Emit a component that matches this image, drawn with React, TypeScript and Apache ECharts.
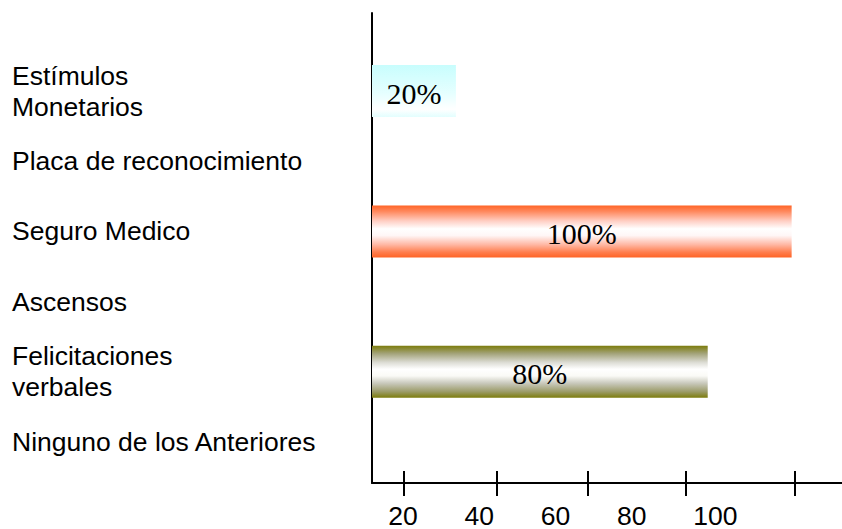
import React, { useEffect, useRef } from "react";
import * as echarts from "echarts";

// Incentive options and the share of respondents who picked each one
const categories = [
  "Estímulos\nMonetarios",
  "Placa de reconocimiento",
  "Seguro Medico",
  "Ascensos",
  "Felicitaciones\nverbales",
  "Ninguno de los Anteriores",
];
const percentages: (number | null)[] = [20, null, 100, null, 80, null];

// Tick marks along the horizontal axis (in bar units) and the printed scale labels
const tickStops = [7.5, 29.7, 51.3, 74.8, 100.8];
const scaleLabels = [20, 40, 60, 80, 100];

// Banded fills: edge colour / mid colour / centre colour for each row
const bandFills: Record<number, [number, string][]> = {
  0: [
    [0, "#c8fdfd"],
    [0.55, "#e6ffff"],
    [0.85, "#ffffff"],
    [1, "#e2fefe"],
  ],
  2: [
    [0, "#ff6426"],
    [0.12, "#ff8a60"],
    [0.3, "#ffcfc4"],
    [0.45, "#ffffff"],
    [0.58, "#fff6f6"],
    [0.75, "#ffb9a6"],
    [0.9, "#ff7e4e"],
    [1, "#ff6426"],
  ],
  4: [
    [0, "#7c7c0c"],
    [0.15, "#a3a37a"],
    [0.32, "#dcdcd4"],
    [0.45, "#ffffff"],
    [0.58, "#fafaf6"],
    [0.72, "#c9c9bc"],
    [0.88, "#9c9c6a"],
    [1, "#7c7c0c"],
  ],
};

const SANS = "'Liberation Sans', Arial, Helvetica, sans-serif";
const SERIF = "'Liberation Serif', 'Times New Roman', serif";
const BAR_MAX = 112;

export default function App() {
  const ref = useRef<HTMLDivElement>(null);

  useEffect(() => {
    if (!ref.current) return;
    const chart = echarts.init(ref.current, undefined, { renderer: "svg" });

    const barData = percentages.map((v, i) => {
      const stops = bandFills[i];
      return {
        value: v,
        itemStyle: stops
          ? {
              color: new echarts.graphic.LinearGradient(
                0,
                0,
                0,
                1,
                stops.map(([offset, color]) => ({ offset, color }))
              ),
            }
          : undefined,
      };
    });

    chart.setOption({
      animation: false,
      backgroundColor: "#ffffff",
      grid: [
        // rows with the bars
        { left: 372, right: 0, top: 56, bottom: 52, containLabel: false },
        // frame carrying the axis lines, ticks and scale labels
        { left: 372, right: 0, top: 13, bottom: 43, containLabel: false },
      ],
      xAxis: [
        {
          gridIndex: 0,
          type: "value",
          min: 0,
          max: BAR_MAX,
          show: false,
        },
        {
          gridIndex: 1,
          type: "value",
          position: "bottom",
          min: 0,
          max: BAR_MAX,
          axisLine: { show: true, lineStyle: { color: "#000", width: 2 } },
          axisTick: {
            show: true,
            customValues: tickStops,
            inside: false,
            length: 13,
            lineStyle: { color: "#000", width: 2 },
          },
          axisLabel: { show: false },
          splitLine: { show: false },
        },
        {
          gridIndex: 1,
          type: "value",
          position: "bottom",
          min: 0,
          max: BAR_MAX,
          axisLine: { show: false },
          axisTick: {
            show: true,
            customValues: tickStops,
            inside: true,
            length: 12,
            lineStyle: { color: "#000", width: 2 },
          },
          axisLabel: { show: false },
          splitLine: { show: false },
        },
        {
          gridIndex: 1,
          type: "value",
          position: "bottom",
          min: 15.72,
          max: 139,
          axisLine: { show: false },
          axisTick: { show: false },
          splitLine: { show: false },
          axisLabel: {
            show: true,
            customValues: scaleLabels,
            align: "left",
            margin: 19,
            color: "#000",
            fontFamily: SANS,
            fontSize: 26.5,
          },
        },
      ],
      yAxis: [
        {
          gridIndex: 0,
          type: "category",
          inverse: true,
          data: categories,
          axisLine: { show: false },
          axisTick: { show: false },
          splitLine: { show: false },
          axisLabel: {
            align: "left",
            margin: 360,
            color: "#000",
            fontFamily: SANS,
            fontSize: 26.5,
            lineHeight: 31,
            interval: 0,
          },
        },
        {
          gridIndex: 1,
          type: "value",
          min: 0,
          max: 1,
          axisLine: { show: true, lineStyle: { color: "#000", width: 2 } },
          axisTick: { show: false },
          axisLabel: { show: false },
          splitLine: { show: false },
        },
      ],
      series: [
        {
          type: "bar",
          xAxisIndex: 0,
          yAxisIndex: 0,
          data: barData,
          barWidth: 52,
          label: {
            show: true,
            position: "inside",
            formatter: "{c}%",
            color: "#000",
            fontFamily: SERIF,
            fontSize: 30,
            offset: [0, 2],
          },
        },
      ],
    });

    return () => chart.dispose();
  }, []);

  return (
    <div
      ref={ref}
      style={{ position: "fixed", left: 0, top: 0, width: 842, height: 529 }}
    />
  );
}
